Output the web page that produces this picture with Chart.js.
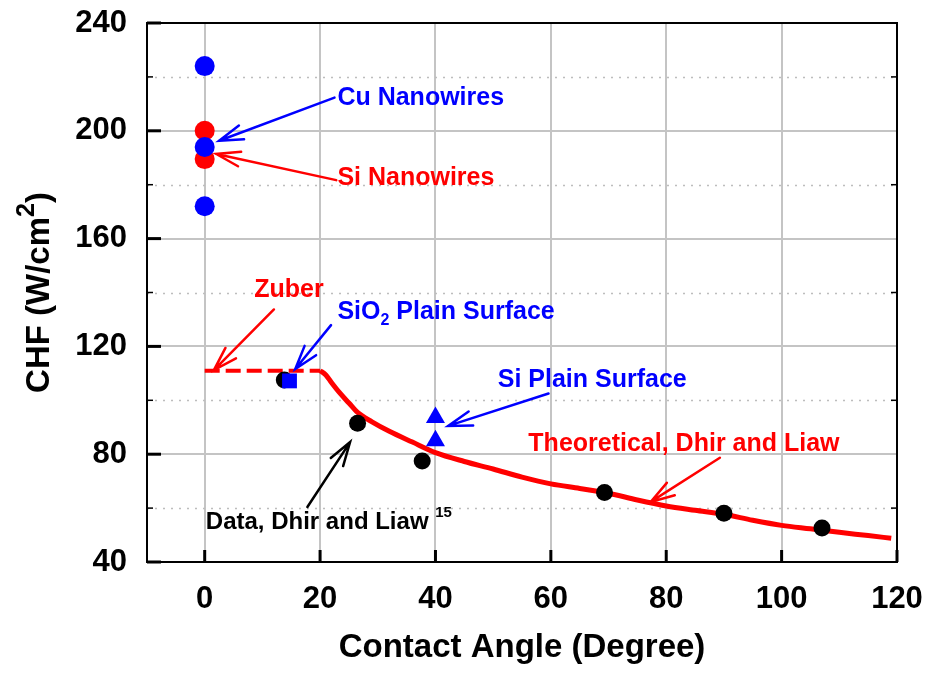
<!DOCTYPE html>
<html>
<head>
<meta charset="utf-8">
<script src="https://cdn.jsdelivr.net/npm/chart.js@4.4.0/dist/chart.umd.min.js"></script>
<style>
  html, body { margin: 0; padding: 0; background: #fff; }
  #wrap { width: 927px; height: 675px; }
</style>
</head>
<body>
<div id="wrap"><canvas id="chfChart" width="927" height="675"></canvas></div>
<script>
// axis ticks
const xTicks = [0, 20, 40, 60, 80, 100, 120];
const yTicks = [40, 80, 120, 160, 200, 240];
const yMinorTicks = [60, 100, 140, 180, 220];

// measured series
const cuX = [0, 0, 0];
const cuY = [224, 194, 172];
const siNwX = [0, 0];
const siNwY = [200, 189.5];
const dhirX = [13.8, 26.5, 37.7, 69.3, 90, 107];
const dhirY = [107.5, 91.5, 77.5, 65.8, 58.1, 52.6];
const sio2X = [14.7];
const sio2Y = [107.2];
const siPlainX = [40, 40];
const siPlainY = [93.6, 85];

// Zuber and theoretical curves
const zuberX = [0, 20];
const zuberY = [111, 111];
const theoryX = [20, 21, 22, 23.3, 25, 26.5, 29, 32, 36, 40, 45, 50, 55, 60, 65, 70, 75, 80, 85, 90, 95, 100, 105, 110, 115, 119];
const theoryY = [111, 109.4, 106.5, 103, 99, 95.5, 92, 88.5, 84.5, 80.6, 77.3, 74.5, 71.5, 69, 67.3, 65.5, 63, 60.8, 59.2, 57.7, 55.5, 53.6, 52.3, 51, 49.8, 48.8];

const BLUE = '#0000ff';
const RED = '#ff0000';
const FONT = '"Liberation Sans", Arial, sans-serif';

function pts(xs, ys) {
    return xs.map((x, i) => ({ x: x, y: ys[i] }));
}

// arrows: [fromX, fromY, tipX, tipY, color] in data units
const arrows = [
    [22.5, 212.3, 2.5, 196.3, BLUE],
    [22.8, 181.7, 2.0, 191.4, RED],
    [12.0, 133.7, 1.6, 111.2, RED],
    [21.9, 127.9, 15.7, 111.6, BLUE],
    [17.8, 60.4, 25.2, 84.5, '#000'],
    [59.6, 102.5, 42.2, 90.5, BLUE],
    [89.3, 78.7, 77.3, 62.3, RED]
];

// labels: [x, y, color, parts]  parts: [text, mode] mode '' | 'sub' | 'sup'
const labels = [
    [23.0, 212.2, BLUE, [['Cu Nanowires', '']]],
    [23.0, 182.6, RED, [['Si Nanowires', '']]],
    [8.6, 140.9, RED, [['Zuber', '']]],
    [23.0, 132.7, BLUE, [['SiO', ''], ['2', 'sub'], [' Plain Surface', '']]],
    [50.8, 107.5, BLUE, [['Si Plain Surface', '']]],
    [56.1, 83.7, RED, [['Theoretical, Dhir and Liaw', '']]],
    [0.2, 54.8, '#000', [['Data, Dhir and Liaw ', ''], ['15', 'sup']]]
];

function drawParts(ctx, x, y, parts, size, supScale) {
    parts.forEach(p => {
        const small = p[1] !== '';
        ctx.font = 'bold ' + (small ? Math.round(size * supScale) : size) + 'px ' + FONT;
        let dy = 0;
        if (p[1] === 'sub') dy = size * 0.35;
        if (p[1] === 'sup') dy = -size * 0.4;
        ctx.fillText(p[0], x, y + dy);
        x += ctx.measureText(p[0]).width;
    });
    return x;
}

function partsWidth(ctx, parts, size, supScale) {
    let w = 0;
    parts.forEach(p => {
        const small = p[1] !== '';
        ctx.font = 'bold ' + (small ? Math.round(size * supScale) : size) + 'px ' + FONT;
        w += ctx.measureText(p[0]).width;
    });
    return w;
}

const extras = {
    id: 'extras',
    beforeDatasetsDraw(chart) {
        const { ctx, chartArea: a, scales: { y } } = chart;
        ctx.save();
        ctx.strokeStyle = '#bdbdbd';
        ctx.lineWidth = 1.5;
        ctx.setLineDash([2, 6]);
        yMinorTicks.forEach(v => {
            const py = Math.round(y.getPixelForValue(v)) + 0.5;
            ctx.beginPath();
            ctx.moveTo(a.left, py);
            ctx.lineTo(a.right, py);
            ctx.stroke();
        });
        ctx.restore();
    },
    afterDraw(chart) {
        const { ctx, chartArea: a, scales: { x, y } } = chart;
        ctx.save();

        // frame
        ctx.strokeStyle = '#000';
        ctx.lineWidth = 2;
        ctx.strokeRect(a.left, a.top, a.right - a.left, a.bottom - a.top);

        // tick marks (inside)
        ctx.lineWidth = 3;
        yTicks.forEach(v => {
            const py = y.getPixelForValue(v);
            ctx.beginPath(); ctx.moveTo(a.left, py); ctx.lineTo(a.left + 14, py); ctx.stroke();
        });
        xTicks.forEach(v => {
            const px = x.getPixelForValue(v);
            ctx.beginPath(); ctx.moveTo(px, a.bottom); ctx.lineTo(px, a.bottom - 12); ctx.stroke();
        });
        ctx.lineWidth = 1.5;
        yMinorTicks.forEach(v => {
            const py = y.getPixelForValue(v);
            ctx.beginPath(); ctx.moveTo(a.left, py); ctx.lineTo(a.left + 6, py); ctx.stroke();
            ctx.beginPath(); ctx.moveTo(a.right, py); ctx.lineTo(a.right - 6, py); ctx.stroke();
        });

        // arrows
        const wing = 25, spread = 0.3;
        arrows.forEach(ar => {
            const x1 = x.getPixelForValue(ar[0]), y1 = y.getPixelForValue(ar[1]);
            const x2 = x.getPixelForValue(ar[2]), y2 = y.getPixelForValue(ar[3]);
            const ang = Math.atan2(y2 - y1, x2 - x1);
            ctx.strokeStyle = ar[4];
            ctx.lineWidth = 2.5;
            ctx.lineCap = 'round';
            ctx.beginPath();
            ctx.moveTo(x1, y1);
            ctx.lineTo(x2, y2);
            ctx.moveTo(x2 - wing * Math.cos(ang - spread), y2 - wing * Math.sin(ang - spread));
            ctx.lineTo(x2, y2);
            ctx.lineTo(x2 - wing * Math.cos(ang + spread), y2 - wing * Math.sin(ang + spread));
            ctx.stroke();
        });

        // labels
        ctx.textBaseline = 'middle';
        ctx.textAlign = 'left';
        labels.forEach(l => {
            ctx.fillStyle = l[2];
            const size = l[2] === '#000' ? 24 : 25;
            drawParts(ctx, x.getPixelForValue(l[0]), y.getPixelForValue(l[1]), l[3], size, 0.62);
        });

        // y axis title with superscript
        const titleParts = [['CHF (W/cm', ''], ['2', 'sup'], [')', '']];
        const tSize = 33;
        const w = partsWidth(ctx, titleParts, tSize, 0.75);
        ctx.translate(40, (a.top + a.bottom) / 2);
        ctx.rotate(-Math.PI / 2);
        ctx.fillStyle = '#000';
        drawParts(ctx, -w / 2, 0, titleParts, tSize, 0.75);

        ctx.restore();
    }
};

const ctx = document.getElementById('chfChart').getContext('2d');
new Chart(ctx, {
    type: 'scatter',
    data: {
        datasets: [
            { label: 'SiO2 Plain Surface', data: pts(sio2X, sio2Y), pointStyle: 'rect', pointRadius: 10.5,
              backgroundColor: BLUE, borderColor: BLUE, borderWidth: 0 },
            { label: 'Cu Nanowires', data: pts(cuX, cuY), pointRadius: 10,
              backgroundColor: BLUE, borderColor: BLUE, borderWidth: 0 },
            { label: 'Si Nanowires', data: pts(siNwX, siNwY), pointRadius: 10,
              backgroundColor: RED, borderColor: RED, borderWidth: 0 },
            { label: 'Data, Dhir and Liaw', data: pts(dhirX, dhirY), pointRadius: 8.5,
              backgroundColor: '#000', borderColor: '#000', borderWidth: 0 },
            { label: 'Si Plain Surface', data: pts(siPlainX, siPlainY), pointStyle: 'triangle', pointRadius: 11,
              backgroundColor: BLUE, borderColor: BLUE, borderWidth: 0 },
            { label: 'Theoretical', data: pts(theoryX, theoryY), showLine: true, pointRadius: 0,
              borderColor: RED, borderWidth: 5, cubicInterpolationMode: 'monotone' },
            { label: 'Zuber', data: pts(zuberX, zuberY), showLine: true, pointRadius: 0,
              borderColor: RED, borderWidth: 4, borderDash: [15, 6] }
        ]
    },
    options: {
        responsive: false,
        animation: false,
        events: [],
        layout: { padding: { top: 23, right: 30, left: 0, bottom: 0 } },
        plugins: { legend: { display: false }, tooltip: { enabled: false } },
        scales: {
            x: {
                type: 'linear',
                min: -10,
                max: 120,
                afterBuildTicks: s => { s.ticks = xTicks.map(v => ({ value: v })); },
                afterFit: s => { s.height = 113; s.paddingLeft = 0; s.paddingRight = 0; },
                grid: { color: '#c4c4c4', lineWidth: 2, drawTicks: false },
                border: { display: false },
                ticks: { color: '#000', padding: 19, font: { family: FONT, size: 31, weight: 'bold' } },
                title: { display: true, text: 'Contact Angle (Degree)', color: '#000',
                         padding: { top: 0, bottom: 7 }, font: { family: FONT, size: 33, weight: 'bold' } }
            },
            y: {
                type: 'linear',
                min: 40,
                max: 240,
                afterBuildTicks: s => { s.ticks = yTicks.map(v => ({ value: v })); },
                afterFit: s => { s.width = 147; s.paddingTop = 0; s.paddingBottom = 0; },
                grid: { color: '#c4c4c4', lineWidth: 2, drawTicks: false },
                border: { display: false },
                ticks: { color: '#000', padding: 20, font: { family: FONT, size: 31, weight: 'bold' } }
            }
        }
    },
    plugins: [extras]
});
</script>
</body>
</html>
